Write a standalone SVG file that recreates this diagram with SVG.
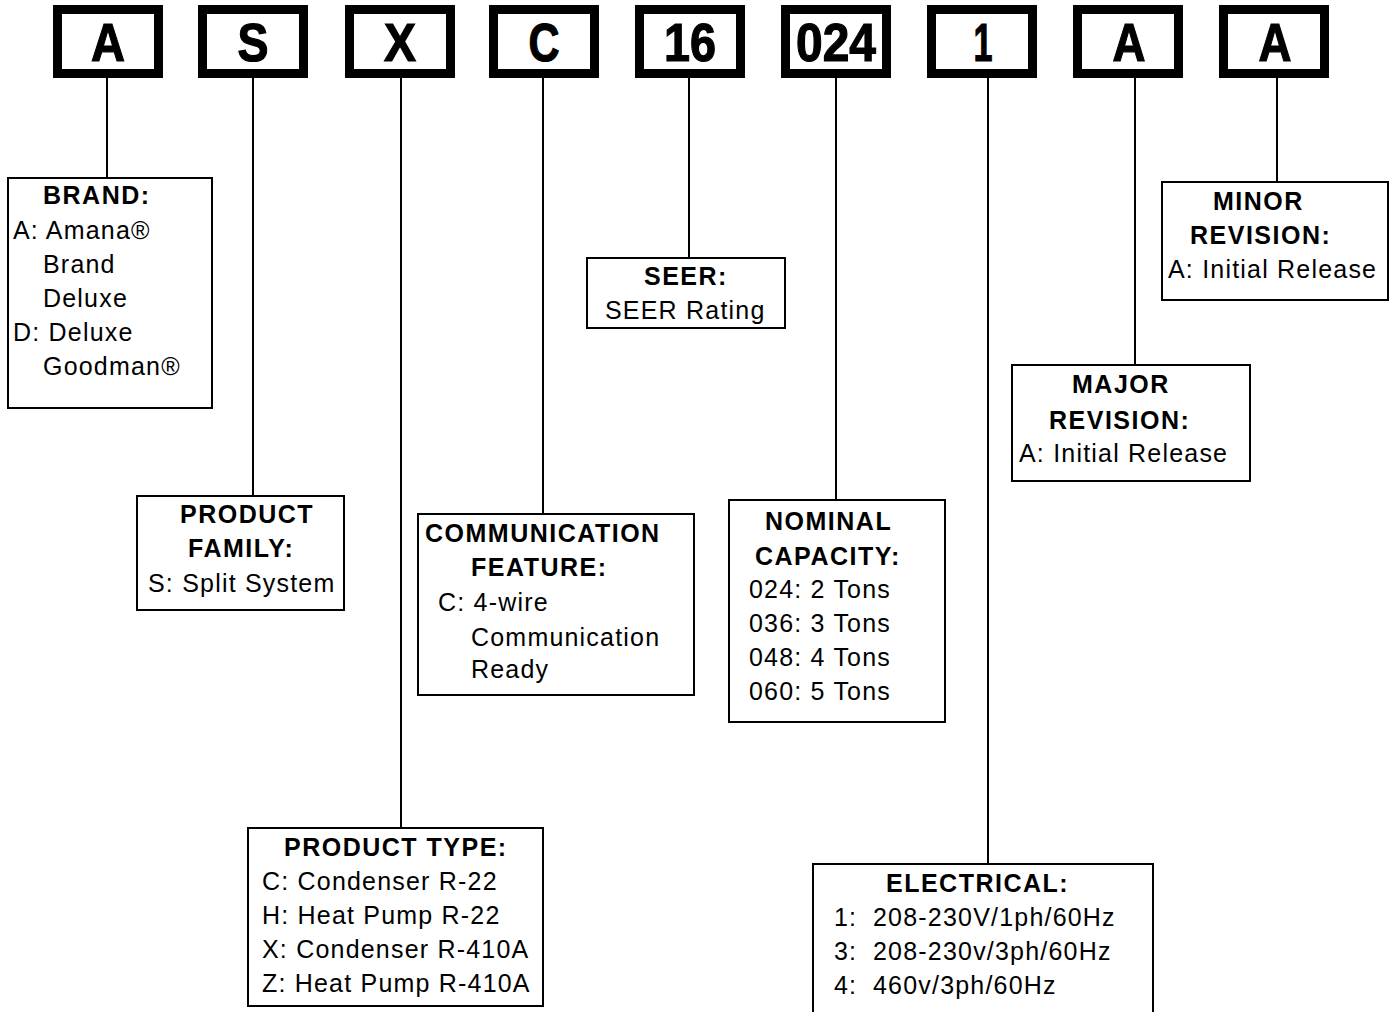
<svg xmlns="http://www.w3.org/2000/svg" width="1392" height="1012" viewBox="0 0 1392 1012">
<style>
.code{fill:#fff;stroke:#000;stroke-width:9}
.ct{font-family:"Liberation Sans",Arial,sans-serif;font-weight:bold;font-size:53px;fill:#000;stroke:#000;stroke-width:1.2px;text-anchor:middle}
.box{fill:#fff;stroke:#000;stroke-width:2}
.h{font-family:"Liberation Sans",Arial,sans-serif;font-weight:bold;font-size:25px;letter-spacing:1.5px;fill:#000}
.t{font-family:"Liberation Sans",Arial,sans-serif;font-size:25px;letter-spacing:1.2px;fill:#000}
.ln{stroke:#000;stroke-width:2;fill:none}
</style>
<rect width="1392" height="1012" fill="#fff"/>
<g id="connectors">
<line class="ln" x1="107" y1="78" x2="107" y2="178"/>
<line class="ln" x1="253" y1="78" x2="253" y2="496"/>
<line class="ln" x1="401" y1="78" x2="401" y2="828"/>
<line class="ln" x1="543" y1="78" x2="543" y2="514"/>
<line class="ln" x1="689" y1="78" x2="689" y2="258"/>
<line class="ln" x1="836" y1="78" x2="836" y2="500"/>
<line class="ln" x1="988" y1="78" x2="988" y2="864"/>
<line class="ln" x1="1135" y1="78" x2="1135" y2="365"/>
<line class="ln" x1="1277" y1="78" x2="1277" y2="182"/>
</g>
<g id="code-A1"><rect class="code" x="57.5" y="9.5" width="101" height="64"/><text class="ct" x="108" y="61" textLength="34" lengthAdjust="spacingAndGlyphs">A</text></g>
<g id="code-S"><rect class="code" x="202.5" y="9.5" width="101" height="64"/><text class="ct" x="253" y="61" textLength="31" lengthAdjust="spacingAndGlyphs">S</text></g>
<g id="code-X"><rect class="code" x="349.5" y="9.5" width="101" height="64"/><text class="ct" x="400" y="61" textLength="32" lengthAdjust="spacingAndGlyphs">X</text></g>
<g id="code-C"><rect class="code" x="493.5" y="9.5" width="101" height="64"/><text class="ct" x="544" y="61" textLength="31" lengthAdjust="spacingAndGlyphs">C</text></g>
<g id="code-16"><rect class="code" x="639.5" y="9.5" width="101" height="64"/><text class="ct" x="690" y="61" textLength="52" lengthAdjust="spacingAndGlyphs">16</text></g>
<g id="code-024"><rect class="code" x="785.5" y="9.5" width="101" height="64"/><text class="ct" x="836" y="61" textLength="80" lengthAdjust="spacingAndGlyphs">024</text></g>
<g id="code-1"><rect class="code" x="931.5" y="9.5" width="101" height="64"/><text class="ct" x="983" y="61" textLength="19" lengthAdjust="spacingAndGlyphs">1</text></g>
<g id="code-A2"><rect class="code" x="1077.5" y="9.5" width="101" height="64"/><text class="ct" x="1129" y="61" textLength="33" lengthAdjust="spacingAndGlyphs">A</text></g>
<g id="code-A3"><rect class="code" x="1223.5" y="9.5" width="101" height="64"/><text class="ct" x="1275" y="61" textLength="33" lengthAdjust="spacingAndGlyphs">A</text></g>

<g id="brand"><rect class="box" x="8" y="178" width="204" height="230"/>
<text class="h" x="43" y="204">BRAND:</text>
<text class="t" x="13" y="239">A: Amana®</text>
<text class="t" x="43" y="273">Brand</text>
<text class="t" x="43" y="307">Deluxe</text>
<text class="t" x="13" y="341">D: Deluxe</text>
<text class="t" x="43" y="375">Goodman®</text>
</g>
<g id="product-family"><rect class="box" x="137" y="496" width="207" height="114"/>
<text class="h" x="180" y="523">PRODUCT</text>
<text class="h" x="188" y="557">FAMILY:</text>
<text class="t" x="148" y="592">S: Split System</text>
</g>
<g id="communication"><rect class="box" x="418" y="514" width="276" height="181"/>
<text class="h" x="425" y="542">COMMUNICATION</text>
<text class="h" x="471" y="576">FEATURE:</text>
<text class="t" x="438" y="611">C: 4-wire</text>
<text class="t" x="471" y="646">Communication</text>
<text class="t" x="471" y="678">Ready</text>
</g>
<g id="seer"><rect class="box" x="587" y="258" width="198" height="70"/>
<text class="h" x="644" y="285">SEER:</text>
<text class="t" x="605" y="319">SEER Rating</text>
</g>
<g id="nominal-capacity"><rect class="box" x="729" y="500" width="216" height="222"/>
<text class="h" x="765" y="530">NOMINAL</text>
<text class="h" x="755" y="565">CAPACITY:</text>
<text class="t" x="749" y="598">024: 2 Tons</text>
<text class="t" x="749" y="632">036: 3 Tons</text>
<text class="t" x="749" y="666">048: 4 Tons</text>
<text class="t" x="749" y="700">060: 5 Tons</text>
</g>
<g id="major-revision"><rect class="box" x="1012" y="365" width="238" height="116"/>
<text class="h" x="1072" y="393">MAJOR</text>
<text class="h" x="1049" y="429">REVISION:</text>
<text class="t" x="1019" y="462">A: Initial Release</text>
</g>
<g id="minor-revision"><rect class="box" x="1162" y="182" width="226" height="118"/>
<text class="h" x="1213" y="210">MINOR</text>
<text class="h" x="1190" y="244">REVISION:</text>
<text class="t" x="1168" y="278">A: Initial Release</text>
</g>
<g id="product-type"><rect class="box" x="248" y="828" width="295" height="178"/>
<text class="h" x="284" y="856">PRODUCT TYPE:</text>
<text class="t" x="262" y="890">C: Condenser R-22</text>
<text class="t" x="262" y="924">H: Heat Pump R-22</text>
<text class="t" x="262" y="958">X: Condenser R-410A</text>
<text class="t" x="262" y="992">Z: Heat Pump R-410A</text>
</g>
<g id="electrical"><rect class="box" x="813" y="864" width="340" height="160"/>
<text class="h" x="886" y="892">ELECTRICAL:</text>
<text class="t" x="834" y="926">1:</text><text class="t" x="873" y="926">208-230V/1ph/60Hz</text>
<text class="t" x="834" y="960">3:</text><text class="t" x="873" y="960">208-230v/3ph/60Hz</text>
<text class="t" x="834" y="994">4:</text><text class="t" x="873" y="994">460v/3ph/60Hz</text>
</g>
</svg>
